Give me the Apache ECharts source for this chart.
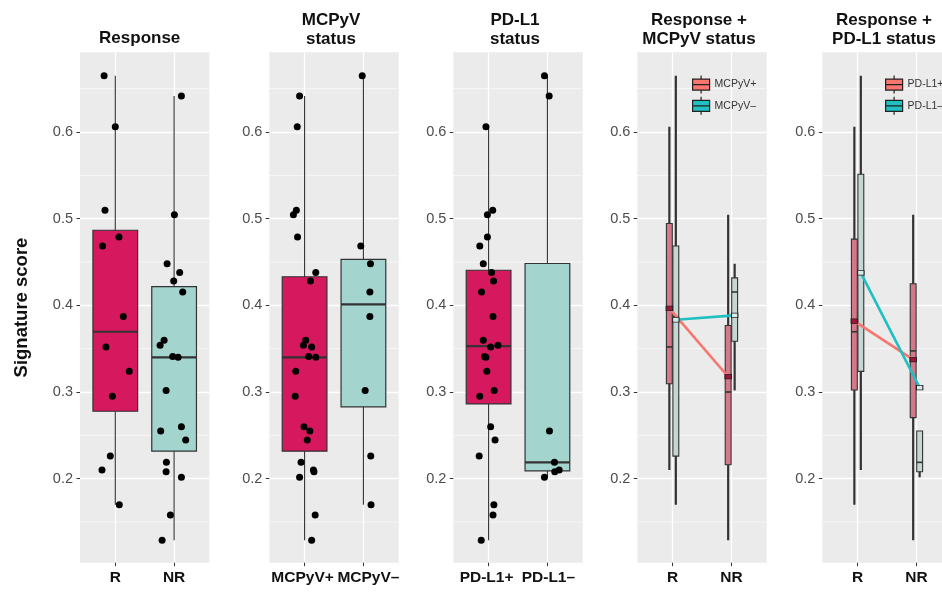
<!DOCTYPE html>
<html><head><meta charset="utf-8">
<script src="https://cdn.jsdelivr.net/npm/echarts@6/dist/echarts.min.js"></script>
<style>html,body{margin:0;padding:0;background:#fff}#c{width:942px;height:593px}</style>
</head><body><div id="c"></div>
<script>
// ---------------- data ----------------
const panelTitles = [['Response'], ['MCPyV', 'status'], ['PD-L1', 'status'], ['Response +', 'MCPyV status'], ['Response +', 'PD-L1 status']];
const responseCats = ['R', 'NR'];
const mcpyvCats = ['MCPyV+', 'MCPyV–'];
const pdl1Cats = ['PD-L1+', 'PD-L1–'];
const yTicks = [0.2, 0.3, 0.4, 0.5, 0.6];
const yMinorTicks = [0.15, 0.25, 0.35, 0.45, 0.55, 0.65];
const yAxisTitle = 'Signature score';

// one entry per sample (31 samples)
const scores = [0.665, 0.606, 0.5097, 0.479, 0.4685, 0.387, 0.352, 0.324, 0.295, 0.226, 0.210, 0.170,
  0.6416, 0.5046, 0.448, 0.438, 0.428, 0.4154, 0.3596, 0.3538, 0.341, 0.340, 0.3018, 0.260, 0.255, 0.2447, 0.2188, 0.208, 0.2015, 0.158, 0.129];
const response = ['R','R','R','R','R','R','R','R','R','R','R','R',
  'NR','NR','NR','NR','NR','NR','NR','NR','NR','NR','NR','NR','NR','NR','NR','NR','NR','NR','NR'];
const mcpyv = ['-','+','+','+','-','-','+','+','+','-','+','-',
  '+','+','-','+','+','-','+','+','+','+','-','+','+','+','+','+','+','+','+'];
const pdl1 = ['-','+','+','+','+','+','+','+','+','+','-','+',
  '-','+','+','+','+','+','+','+','+','+','+','+','-','+','-','-','-','+','+'];
// horizontal jitter of the points (category units)
const jitterResponse = [-0.19, 0.0, -0.175, 0.063, -0.216, 0.136, -0.158, 0.238, -0.05, -0.085, -0.226, 0.068,
  0.124, 0.005, -0.119, 0.095, -0.007, 0.146, -0.17, -0.238, -0.024, 0.068, -0.136, 0.124, -0.228, 0.197, -0.131, -0.136, 0.124, -0.063, -0.204];
const jitterMcpyv = [-0.02, -0.125, -0.14, -0.12, -0.045, 0.11, 0.12, -0.15, -0.16, 0.125, 0.15, 0.13,
  -0.085, -0.19, 0.12, 0.19, 0.10, 0.11, 0.02, -0.02, 0.07, 0.19, 0.03, -0.01, 0.09, 0.045, -0.06, 0.16, -0.085, 0.18, 0.12];
const jitterPdl1 = [-0.05, -0.045, 0.07, -0.02, -0.15, 0.075, 0.035, -0.03, -0.15, -0.16, 0.2, 0.09,
  0.03, -0.02, -0.09, 0.05, 0.085, -0.12, -0.09, 0.16, -0.07, -0.045, 0.095, 0.035, 0.035, 0.11, 0.12, 0.125, -0.05, 0.075, -0.125];

// ---------------- helpers ----------------
function quantile(s, p) { const h = (s.length - 1) * p, lo = Math.floor(h), hi = Math.ceil(h); return s[lo] + (h - lo) * (s[hi] - s[lo]); }
function boxStats(vals) {
  const s = vals.slice().sort((a, b) => a - b);
  const q1 = quantile(s, 0.25), med = quantile(s, 0.5), q3 = quantile(s, 0.75), iqr = q3 - q1;
  const inside = s.filter(v => v >= q1 - 1.5 * iqr && v <= q3 + 1.5 * iqr);
  return { lo: Math.min(...inside), q1, med, q3, hi: Math.max(...inside), mean: s.reduce((a, b) => a + b, 0) / s.length };
}

const FONT = 'Liberation Sans';
const gridLefts = [80, 269.3, 453.3, 637.3, 822.3];
const gridW = 129.4, gridTop = 52.3, gridH = 510.4;
const X_MIN = 0.4, X_MAX = 2.6, Y_MIN = 0.103, Y_MAX = 0.692;

const boxFill = ['#D6195F', '#A3D4CE'];
const dodgeFill = ['#D4788A', '#C5D7D3'];
const lineColors = ['#F8766D', '#1FBFC2'];
const meanFill = ['#A3123A', '#D5ECEA'];
const dodgeOff = [-0.055, 0.055];
// label box padding (first / second category) so neighbouring labels keep a small gap
const labelPads = [[[0,0,0,0],[0,0,0,0]], [[0,4,0,0],[0,0,0,10]], [[0,4,0,0],[0,0,0,2]], [[0,0,0,0],[0,0,0,0]], [[0,0,0,0],[0,0,0,0]]];

const panelDefs = [
  { cats: responseCats, key: response, groups: ['R', 'NR'], jitter: jitterResponse },
  { cats: mcpyvCats, key: mcpyv, groups: ['+', '-'], jitter: jitterMcpyv },
  { cats: pdl1Cats, key: pdl1, groups: ['+', '-'], jitter: jitterPdl1 },
  { cats: responseCats, sub: mcpyv, legend: mcpyvCats },
  { cats: responseCats, sub: pdl1, legend: pdl1Cats }
];

const grids = [], xAxes = [], xAxes2 = [], yAxes = [], series = [], graphics = [], legends = [];

function xLabelStyle(pd, pad) {
  return { showMinLabel: true, showMaxLabel: true, hideOverlap: false, padding: pad,
    formatter: v => pd.cats[Math.round(v) - 1], fontSize: 15.5, fontWeight: 'bold', color: '#111', fontFamily: FONT, margin: 7 };
}

panelDefs.forEach((pd, i) => {
  grids.push({ left: gridLefts[i], top: gridTop, width: gridW, height: gridH, show: true, backgroundColor: '#EBEBEB', borderWidth: 0, containLabel: false, outerBoundsMode: 'none' });
  // main x axis: first category tick/label + vertical grid lines
  xAxes.push({
    type: 'value', gridIndex: i, min: X_MIN, max: X_MAX, position: 'bottom',
    axisLine: { show: false },
    axisTick: { show: true, customValues: [1, 2], length: 3.5, lineStyle: { color: '#333', width: 1 } },
    axisLabel: Object.assign({ customValues: [1] }, xLabelStyle(pd, labelPads[i][0])),
    splitLine: { show: true, lineStyle: { color: '#fff', width: 1.3 } }
  });
  // companion x axis on the same grid carrying the second category label
  xAxes2.push({
    type: 'value', gridIndex: i, min: X_MIN, max: X_MAX, position: 'bottom', offset: 0,
    axisLine: { show: false }, axisTick: { show: false }, splitLine: { show: false },
    axisLabel: Object.assign({ customValues: [2] }, xLabelStyle(pd, labelPads[i][1]))
  });
  yAxes.push({
    type: 'value', gridIndex: i, min: Y_MIN, max: Y_MAX,
    name: i === 0 ? yAxisTitle : '', nameLocation: 'middle', nameRotate: 90, nameGap: 49,
    nameTextStyle: { fontSize: 18.5, fontWeight: 'bold', color: '#111', fontFamily: FONT },
    axisLine: { show: false },
    axisTick: { show: true, customValues: yTicks, length: 3.5, lineStyle: { color: '#333', width: 1 } },
    axisLabel: { customValues: yTicks, showMinLabel: true, showMaxLabel: true, formatter: v => v.toFixed(1), fontSize: 14.5, color: '#4D4D4D', fontFamily: FONT, margin: 7 },
    splitLine: { show: true, lineStyle: { color: '#fff', width: 1.3 } }
  });
  // minor grid lines
  series.push({
    type: 'custom', xAxisIndex: i, yAxisIndex: i, z: 1, silent: true,
    data: yMinorTicks.map(v => [1.5, v]), encode: { x: 0, y: 1 },
    renderItem: (params, api) => {
      const v = api.value(1);
      const a = api.coord([X_MIN, v]), b = api.coord([X_MAX, v]);
      return { type: 'line', shape: { x1: a[0], y1: a[1], x2: b[0], y2: b[1] }, style: { stroke: '#fff', lineWidth: 0.6 } };
    }
  });

  // titles
  const cx = gridLefts[i] + gridW / 2 - (i === 0 ? 5 : 3);
  const lines = panelTitles[i];
  if (lines.length === 1) {
    graphics.push({ type: 'text', x: cx, y: 38, style: { text: lines[0], textAlign: 'center', textVerticalAlign: 'middle', font: 'bold 17px "' + FONT + '"', fill: '#111' } });
  } else {
    graphics.push({ type: 'text', x: cx, y: 20.5, style: { text: lines[0], textAlign: 'center', textVerticalAlign: 'middle', font: 'bold 17px "' + FONT + '"', fill: '#111' } });
    graphics.push({ type: 'text', x: cx, y: 39.5, style: { text: lines[1], textAlign: 'center', textVerticalAlign: 'middle', font: 'bold 17px "' + FONT + '"', fill: '#111' } });
  }

  if (i < 3) {
    const boxData = pd.groups.map((g, gi) => {
      const st = boxStats(scores.filter((s, k) => pd.key[k] === g));
      return [gi + 1, st.lo, st.q1, st.med, st.q3, st.hi, gi];
    });
    series.push({
      type: 'custom', xAxisIndex: i, yAxisIndex: i, z: 2, silent: true,
      data: boxData, encode: { x: 0, y: [1, 2, 3, 4, 5] },
      renderItem: (params, api) => {
        const xc = api.value(0), hw = 0.38;
        const pLo = api.coord([xc, api.value(1)]), pHi = api.coord([xc, api.value(5)]);
        const tl = api.coord([xc - hw, api.value(4)]), br = api.coord([xc + hw, api.value(2)]);
        const pm = api.coord([xc, api.value(3)]);
        return { type: 'group', children: [
          { type: 'line', shape: { x1: pLo[0], y1: pLo[1], x2: pHi[0], y2: pHi[1] }, style: { stroke: '#333', lineWidth: 1.1 } },
          { type: 'rect', shape: { x: tl[0], y: tl[1], width: br[0] - tl[0], height: br[1] - tl[1] }, style: { fill: boxFill[api.value(6)], stroke: '#333', lineWidth: 1.2 } },
          { type: 'line', shape: { x1: tl[0], y1: pm[1], x2: br[0], y2: pm[1] }, style: { stroke: '#333', lineWidth: 2.2 } }
        ] };
      }
    });
    series.push({
      type: 'scatter', xAxisIndex: i, yAxisIndex: i, z: 3, silent: true,
      symbolSize: 7, itemStyle: { color: '#000', opacity: 1 },
      data: scores.map((s, k) => [pd.groups.indexOf(pd.key[k]) + 1 + pd.jitter[k], s])
    });
  } else {
    const subs = ['+', '-'];
    const boxData = [];
    const means = [[], []];
    subs.forEach((sg, gi) => {
      responseCats.forEach((rc, ci) => {
        const st = boxStats(scores.filter((s, k) => response[k] === rc && pd.sub[k] === sg));
        boxData.push([ci + 1 + dodgeOff[gi], st.lo, st.q1, st.med, st.q3, st.hi, gi]);
        means[gi].push([ci + 1 + dodgeOff[gi], st.mean]);
      });
    });
    series.push({
      type: 'custom', xAxisIndex: i, yAxisIndex: i, z: 2, silent: true,
      data: boxData, encode: { x: 0, y: [1, 2, 3, 4, 5] },
      renderItem: (params, api) => {
        const xc = api.value(0), hw = 0.05;
        const pLo = api.coord([xc, api.value(1)]), pHi = api.coord([xc, api.value(5)]);
        const tl = api.coord([xc - hw, api.value(4)]), br = api.coord([xc + hw, api.value(2)]);
        const pm = api.coord([xc, api.value(3)]);
        return { type: 'group', children: [
          { type: 'line', shape: { x1: pLo[0], y1: pLo[1], x2: pHi[0], y2: pHi[1] }, style: { stroke: '#333', lineWidth: 2.2 } },
          { type: 'rect', shape: { x: tl[0], y: tl[1], width: br[0] - tl[0], height: br[1] - tl[1] }, style: { fill: dodgeFill[api.value(6)], stroke: '#333', lineWidth: 1.1 } },
          { type: 'line', shape: { x1: tl[0], y1: pm[1], x2: br[0], y2: pm[1] }, style: { stroke: '#333', lineWidth: 1.6 } }
        ] };
      }
    });
    subs.forEach((sg, gi) => {
      series.push({
        type: 'line', name: pd.legend[gi], xAxisIndex: i, yAxisIndex: i, z: 4, silent: true,
        data: means[gi], symbol: 'rect', symbolSize: [6.4, 4.5],
        itemStyle: { color: meanFill[gi], borderColor: '#222', borderWidth: 0.9 },
        lineStyle: { color: lineColors[gi], width: 2.6 }
      });
    });
    const keyIcon = 'path://M8.5,0L8.5,3.5M0,3.5L17,3.5L17,14.5L0,14.5ZM0,9L17,9M8.5,14.5L8.5,18';
    legends.push({
      left: i === 3 ? 692 : 885, top: 75, orient: 'vertical', padding: 0,
      itemWidth: 17, itemHeight: 18, itemGap: 2, selectedMode: false,
      textStyle: { fontSize: 10.5, color: '#333', fontFamily: FONT },
      data: pd.legend.map((n, gi) => ({ name: n, icon: keyIcon, itemStyle: { color: lineColors[gi], borderColor: '#222', borderWidth: 1.2 } }))
    });
  }
});

const chart = echarts.init(document.getElementById('c'), null, { renderer: 'canvas' });
chart.setOption({
  animation: false,
  backgroundColor: '#fff',
  textStyle: { fontFamily: FONT },
  grid: grids, xAxis: xAxes.concat(xAxes2), yAxis: yAxes, series: series, legend: legends,
  graphic: graphics
});
</script></body></html>
